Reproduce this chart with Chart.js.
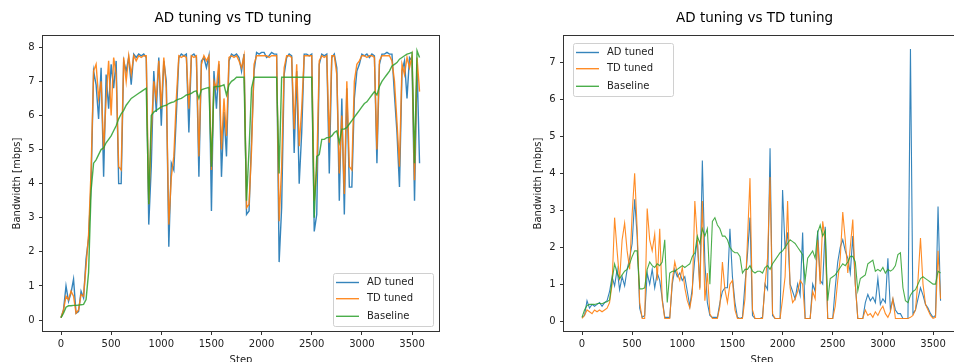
<!DOCTYPE html>
<html>
<head>
<meta charset="utf-8">
<script src="https://cdn.jsdelivr.net/npm/chart.js@4.4.0/dist/chart.umd.min.js"></script>
<style>
html, body { margin: 0; padding: 0; background: #fff; overflow: hidden; width: 954px; height: 362px; }
.box { position: absolute; top: 0; }
</style>
</head>
<body>
<div class="box" style="left:0px"><canvas id="left" width="466" height="380"></canvas></div>
<div class="box" style="left:490px"><canvas id="right" width="529" height="380"></canvas></div>
<script>
// sampled every 25 steps, 0 .. 3575
var STEP = 25;
var steps = Array.from({length: 144}, function(_, i) { return i * STEP; });
var xTicks = [0, 500, 1000, 1500, 2000, 2500, 3000, 3500];
var yTicksLeft = [0, 1, 2, 3, 4, 5, 6, 7, 8];
var yTicksRight = [0, 1, 2, 3, 4, 5, 6, 7];
var seriesNames = ['AD tuned', 'TD tuned', 'Baseline'];

// left panel
var adLeft = [
	0.07, 0.3, 1.0, 0.55, 0.8, 1.2, 0.2, 0.25,
	0.85, 0.65, 1.8, 2.4, 4.0, 7.3, 6.9, 5.9,
	7.4, 4.2, 7.2, 6.2, 7.5, 6.8, 7.6, 4.0,
	4.0, 7.6, 7.3, 7.7, 6.9, 7.8, 7.7, 7.8,
	7.75, 7.8, 7.7, 2.8, 4.5, 7.3, 6.1, 7.7,
	5.7, 7.6, 7.0, 2.15, 4.6, 4.4, 6.0, 7.7,
	7.8, 7.75, 7.8, 5.5, 7.75, 7.8, 7.7, 4.2,
	7.6, 7.7, 7.4, 7.75, 3.2, 7.3, 6.2, 7.5,
	4.2, 6.1, 4.8, 7.6, 7.8, 7.75, 7.8, 7.7,
	7.3, 7.8, 3.1, 3.2, 5.3, 7.3, 7.85, 7.8,
	7.85, 7.85, 7.7, 7.75, 7.85, 7.8, 7.8, 1.7,
	3.3, 7.2, 7.7, 7.8, 7.75, 4.9, 7.3, 4.0,
	5.5, 7.8, 7.8, 7.75, 7.8, 2.6, 3.1, 7.5,
	7.8, 7.75, 7.8, 4.3, 7.7, 7.8, 7.4, 3.5,
	6.5, 3.1, 6.8, 3.9, 3.9, 6.5, 7.3, 7.5,
	7.8, 7.75, 7.8, 7.7, 7.8, 7.75, 4.6, 7.5,
	7.8, 7.8, 7.85, 7.8, 7.8, 6.6, 5.5, 3.9,
	7.3, 7.6, 6.5, 7.7, 7.6, 3.5, 7.5, 4.6
];
var tdLeft = [
	0.07, 0.3, 0.7, 0.6, 0.85, 0.7, 0.2, 0.3,
	0.75, 0.7, 1.6, 2.5, 4.4, 7.3, 7.5, 6.5,
	7.0, 5.0, 6.5, 7.6, 6.0, 7.7, 7.2, 4.5,
	4.4, 7.7, 7.0, 7.75, 7.2, 7.75, 7.6, 7.75,
	7.7, 7.75, 7.75, 3.4, 5.5, 7.0, 6.5, 7.6,
	6.2, 7.7, 6.8, 2.8, 4.2, 4.8, 6.5, 7.75,
	7.7, 7.75, 7.7, 6.2, 7.75, 7.7, 7.75, 4.8,
	7.5, 7.75, 7.6, 7.75, 4.4, 7.0, 6.8, 7.6,
	5.0, 6.5, 5.4, 7.7, 7.75, 7.7, 7.75, 7.6,
	7.4, 7.75, 3.3, 3.4, 5.0, 7.5, 7.75, 7.75,
	7.75, 7.75, 7.75, 7.7, 7.75, 7.75, 7.75, 2.9,
	4.5, 7.4, 7.75, 7.75, 7.7, 5.6, 7.5, 5.1,
	6.2, 7.75, 7.75, 7.75, 7.75, 3.5, 4.4, 7.6,
	7.75, 7.7, 7.75, 5.2, 7.75, 7.75, 7.2, 4.3,
	6.0, 3.7, 7.0, 4.5, 4.4, 7.0, 7.5, 7.6,
	7.75, 7.75, 7.7, 7.75, 7.75, 7.7, 5.0, 7.6,
	7.75, 7.75, 7.75, 7.75, 7.6, 7.0, 5.8, 4.5,
	7.5, 7.2, 7.7, 7.4, 7.75, 4.1, 7.7, 6.7
];
var baseLeft = [
	0.07, 0.2, 0.38, 0.42, 0.42, 0.43, 0.43, 0.44,
	0.45, 0.46, 0.6, 1.4, 3.8, 4.6, 4.7, 4.85,
	5.0, 5.05, 5.2, 5.3, 5.4, 5.55, 5.7, 5.9,
	6.05, 6.15, 6.3, 6.4, 6.5, 6.55, 6.6, 6.65,
	6.7, 6.75, 6.8, 3.4, 6.0, 6.1, 6.15, 6.2,
	6.25, 6.28, 6.3, 6.35, 6.38, 6.4, 6.45, 6.48,
	6.5, 6.55, 6.6, 6.62, 6.65, 6.7, 6.72, 6.5,
	6.75, 6.78, 6.8, 6.82, 4.5, 6.83, 6.85, 6.85,
	6.87, 6.9, 6.6, 6.9, 7.0, 7.05, 7.12, 7.12,
	7.12, 7.12, 3.5, 5.0, 6.8, 7.12, 7.12, 7.12,
	7.12, 7.12, 7.12, 7.12, 7.12, 7.12, 7.12, 4.3,
	7.12, 7.12, 7.12, 7.12, 7.12, 7.12, 7.12, 7.12,
	7.12, 7.12, 7.12, 7.12, 7.12, 3.0, 4.8, 4.85,
	5.3, 5.3, 5.35, 5.35, 5.4, 5.5, 5.55, 5.2,
	5.6, 5.6, 5.65, 5.75, 5.85, 5.95, 6.05, 6.15,
	6.25, 6.35, 6.4, 6.5, 6.6, 6.7, 6.6, 6.85,
	7.0, 7.1, 7.2, 7.3, 7.45, 7.5, 7.55, 7.65,
	7.7, 7.75, 7.8, 7.82, 7.85, 4.6, 7.9, 7.7
];

// right panel
var adRight = [
	0.1, 0.15, 0.55, 0.35, 0.45, 0.4, 0.45, 0.5,
	0.4, 0.5, 0.55, 0.8, 1.2, 0.95, 1.4, 0.85,
	1.2, 0.95, 1.4, 1.7, 2.1, 3.3, 2.3, 0.35,
	0.1, 0.15, 1.3, 1.0, 1.4, 0.9, 1.3, 1.1,
	0.6, 0.1, 0.1, 0.1, 1.0, 1.4, 1.2, 1.3,
	1.1, 1.2, 0.8, 0.4, 0.9, 1.7, 2.2, 0.9,
	4.35, 1.6, 0.5, 0.15, 0.1, 0.1, 0.1, 0.5,
	0.8, 0.9, 0.9, 2.5, 1.2, 0.5, 0.1, 0.07,
	0.1, 1.0, 1.8, 2.8, 0.15, 0.07, 0.07, 0.07,
	0.1, 1.0, 0.85, 4.68, 0.15, 0.07, 0.07, 0.07,
	3.55, 1.95, 2.4, 1.0, 0.8, 0.6, 1.0, 0.7,
	2.4, 0.07, 0.07, 0.07, 1.0, 0.8, 2.45, 1.1,
	1.0, 2.55, 0.07, 0.07, 0.07, 0.9, 1.6, 2.0,
	2.2, 1.9, 1.7, 1.3, 2.3, 1.0, 0.07, 0.07,
	0.07, 0.5, 0.72, 0.55, 0.65, 0.5, 1.15, 0.45,
	0.6, 0.5, 1.7, 0.3, 0.6, 0.3, 0.2, 0.2,
	0.07, 0.07, 0.07, 7.37, 0.2, 0.3, 0.6, 0.9,
	0.7, 0.45, 0.35, 0.2, 0.1, 0.15, 3.1, 0.55
];
var tdRight = [
	0.07, 0.15, 0.3, 0.25, 0.2, 0.3, 0.25, 0.3,
	0.25, 0.3, 0.35, 0.5, 1.0, 2.8, 1.9, 1.1,
	2.2, 2.65, 1.9, 1.4, 2.9, 4.0, 2.5, 0.5,
	0.07, 0.07, 3.05, 2.2, 1.9, 2.35, 1.1, 2.5,
	0.55, 0.07, 0.07, 0.07, 1.1, 1.6, 1.3, 1.1,
	1.45, 0.9, 0.55, 0.35, 0.75, 3.25, 2.2, 0.85,
	3.25, 0.55, 1.3, 0.2, 0.07, 0.07, 0.07, 0.4,
	1.6, 0.85, 0.5, 1.0, 1.1, 0.3, 0.07, 0.07,
	0.07, 0.6, 2.2, 3.87, 0.3, 0.07, 0.07, 0.07,
	0.07, 1.0, 1.7, 3.9, 0.2, 0.07, 0.07, 0.07,
	0.6, 1.2, 3.25, 0.9, 0.5, 0.6, 0.8, 1.1,
	1.0, 0.07, 0.07, 0.07, 0.8, 0.6, 2.2, 1.0,
	2.7, 2.2, 0.07, 0.07, 0.07, 0.4, 1.1, 1.7,
	2.95, 2.2, 1.3, 2.0, 2.75, 1.0, 0.07, 0.07,
	0.07, 0.3, 0.15, 0.2, 0.1, 0.25, 0.15, 0.3,
	0.4, 0.2, 0.1, 0.25, 0.6, 0.07, 0.07, 0.07,
	0.07, 0.07, 0.07, 0.1, 0.15, 0.3, 1.1, 2.25,
	1.0, 0.45, 0.3, 0.15, 0.07, 0.1, 1.9, 0.6
];
var baseRight = [
	0.1, 0.3, 0.42, 0.45, 0.45, 0.45, 0.47, 0.48,
	0.47, 0.5, 0.52, 0.57, 1.1, 1.55, 1.3, 1.15,
	1.25, 1.35, 1.4, 1.55, 1.75, 1.9, 1.9, 0.87,
	0.87, 0.9, 1.4, 1.6, 1.5, 1.45, 1.55, 1.5,
	1.6, 2.2, 0.5, 1.3, 1.35, 1.35, 1.4, 1.45,
	1.5, 1.45, 1.5, 1.55, 1.75, 1.85, 2.3, 2.1,
	2.5, 2.3, 2.5, 1.0, 2.7, 2.8, 2.6, 2.5,
	2.3, 2.3, 2.2, 2.0, 1.9, 1.85, 1.85, 1.75,
	1.3, 1.4, 1.4, 1.5, 1.35, 1.3, 1.35, 1.35,
	1.3, 1.45, 1.5, 1.4, 1.55, 1.65, 1.75, 1.85,
	1.9, 2.0, 2.1, 2.2, 2.15, 2.1, 2.0, 1.9,
	1.8, 1.1, 1.7, 1.8, 1.9, 1.7, 2.4, 2.6,
	2.3, 2.45, 0.55, 1.15, 1.2, 1.25, 1.35, 1.45,
	1.55, 1.5, 1.6, 1.75, 1.75, 1.6, 0.82, 1.15,
	1.2, 1.25, 1.55, 1.6, 1.65, 1.35, 1.4, 1.35,
	1.45, 1.3, 1.4, 1.35, 1.4, 1.5, 1.8, 1.85,
	0.9, 0.55, 0.5, 0.7, 0.8, 0.85, 1.0, 1.15,
	1.2, 1.15, 1.1, 1.05, 1.0, 1.0, 1.35, 1.3
];

var colors = ['rgba(31,119,180,0.9)', 'rgba(255,127,14,0.9)', 'rgba(44,160,44,0.85)'];
var font10 = {family: '"DejaVu Sans"', size: 10};

Chart.defaults.font.family = '"DejaVu Sans"';
Chart.defaults.color = '#222';

function pts(vals) {
	return vals.map(function(v, i) { return {x: steps[i], y: v}; });
}

// axes box on all four sides
var framePlugin = {
	id: 'frame',
	afterDatasetsDraw: function(chart) {
		var a = chart.chartArea, c = chart.ctx;
		c.save();
		c.strokeStyle = '#333';
		c.lineWidth = 1;
		c.strokeRect(Math.round(a.left) - 0.5, Math.round(a.top) - 0.5,
			Math.round(a.right - a.left) + 1, Math.round(a.bottom - a.top) + 1);
		c.restore();
	}
};

function legendPlugin(where) {
	return {
		id: 'boxLegend',
		afterDraw: function(chart) {
			var c = chart.ctx, p = where(chart.chartArea);
			var rows = [9.5, 25.7, 43.3];
			c.save();
			c.fillStyle = 'rgba(255,255,255,0.85)';
			c.strokeStyle = '#d0d0d0';
			c.lineWidth = 1;
			c.beginPath();
			c.roundRect(p.x + 0.5, p.y + 0.5, 100, 53, 2);
			c.fill();
			c.stroke();
			c.font = '10px "DejaVu Sans"';
			c.textBaseline = 'middle';
			seriesNames.forEach(function(name, i) {
				var y = p.y + rows[i];
				c.strokeStyle = colors[i];
				c.lineWidth = 1.4;
				c.beginPath();
				c.moveTo(p.x + 3, y);
				c.lineTo(p.x + 26, y);
				c.stroke();
				c.fillStyle = '#222';
				c.fillText(name, p.x + 34, y);
			});
			c.restore();
		}
	};
}

function plain(v) { return String(v); }

function makeChart(id, series, opt) {
	var datasets = series.map(function(vals, i) {
		return {
			label: seriesNames[i],
			data: pts(vals),
			borderColor: colors[i],
			backgroundColor: colors[i],
			borderWidth: opt.lineWidth,
			pointRadius: 0,
			tension: 0,
			fill: false,
			order: 3 - i
		};
	});
	return new Chart(document.getElementById(id).getContext('2d'), {
		type: 'line',
		data: {datasets: datasets},
		options: {
			responsive: false,
			animation: false,
			events: [],
			layout: {padding: 0},
			plugins: {
				legend: {display: false},
				tooltip: {enabled: false},
				title: {
					display: true,
					text: 'AD tuning vs TD tuning',
					color: '#000',
					font: {family: '"DejaVu Sans"', size: 13.5, weight: 'normal'},
					padding: {top: 10.4, bottom: 9.4}
				}
			},
			scales: {
				x: {
					type: 'linear',
					min: -179.5,
					max: 3769,
					afterBuildTicks: function(s) { s.ticks = xTicks.map(function(v) { return {value: v}; }); },
					afterFit: function(s) { s.height = 49; },
					grid: {drawOnChartArea: false, drawTicks: true, tickLength: 4, tickColor: '#333'},
					border: {display: false},
					ticks: {font: font10, color: '#222', padding: 3, maxRotation: 0, callback: plain},
					title: {display: true, text: 'Step', font: font10, color: '#222', padding: {top: 0, bottom: 14}}
				},
				y: {
					type: 'linear',
					min: opt.yMin,
					max: opt.yMax,
					afterBuildTicks: function(s) { s.ticks = opt.yTicks.map(function(v) { return {value: v}; }); },
					afterFit: function(s) { s.width = opt.yWidth; },
					grid: {drawOnChartArea: false, drawTicks: true, tickLength: 4, tickColor: '#333'},
					border: {display: false},
					ticks: {font: font10, color: '#222', padding: 4.5, callback: plain},
					title: {display: true, text: 'Bandwidth [mbps]', font: font10, color: '#222', padding: {top: opt.yTitlePad, bottom: 0}}
				},
				// empty right-hand box that only reserves the gap beside the axes
				gap: {
					type: 'linear',
					position: 'right',
					display: true,
					afterFit: function(s) { s.width = opt.gapRight; },
					grid: {display: false, drawTicks: false},
					border: {display: false},
					ticks: {display: false}
				}
			}
		},
		plugins: [framePlugin, legendPlugin(opt.legendAt)]
	});
}

window.onload = function() {
	makeChart('left', [adLeft, tdLeft, baseLeft], {
		lineWidth: 1.4, gapRight: 27, yMin: -0.32, yMax: 8.33, yTicks: yTicksLeft,
		yWidth: 43, yTitlePad: 11.5,
		legendAt: function(a) { return {x: Math.round(a.right) - 106, y: Math.round(a.bottom) - 58}; }
	});
	makeChart('right', [adRight, tdRight, baseRight], {
		lineWidth: 1.1, gapRight: 59, yMin: -0.27, yMax: 7.72, yTicks: yTicksRight,
		yWidth: 74, yTitlePad: 42.3,
		legendAt: function(a) { return {x: Math.round(a.left) + 9, y: Math.round(a.top) + 7}; }
	});
};
</script>
</body>
</html>
